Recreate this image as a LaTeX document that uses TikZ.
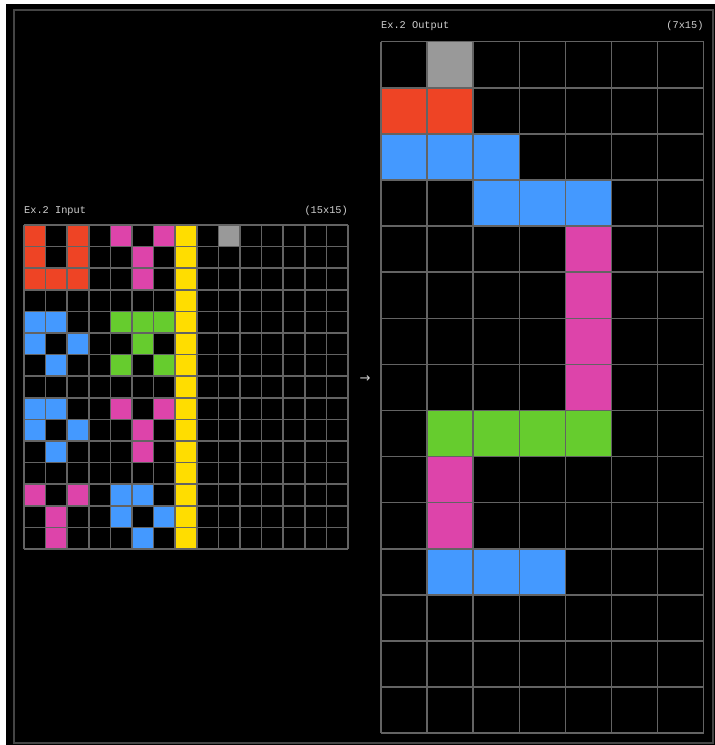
\documentclass[tikz,border=0pt]{standalone}
\usepackage{fontspec}
\setmonofont{Liberation Mono}
\newfontfamily\arrowfont{DejaVu Sans}
\definecolor{cR}{HTML}{EE4425}
\definecolor{cB}{HTML}{4499FF}
\definecolor{cM}{HTML}{DD44AA}
\definecolor{cG}{HTML}{66CC2E}
\definecolor{cY}{HTML}{FFDD00}
\definecolor{cGy}{HTML}{999999}
\definecolor{gridgray}{HTML}{636363}
\definecolor{framegray}{HTML}{454545}
\definecolor{labelgray}{HTML}{D0D0D0}
\begin{document}
\begin{tikzpicture}[x=1pt,y=-1pt,
  lbl/.style={font=\ttfamily\fontsize{10.3}{11}\selectfont, text=labelgray, inner sep=0pt},
  gridline/.style={draw=gridgray, line width=1.5pt},
  arrowlbl/.style={font=\arrowfont\fontsize{13}{13}\selectfont, text=labelgray, inner sep=0pt}]
\useasboundingbox (0,0) rectangle (715,745);
\fill[white] (0,0) rectangle (715,745);
\fill[black] (6,4) rectangle (715,745);
\draw[framegray, line width=1.2pt] (14,10) rectangle (713,743);

% ---------- input grid ----------
\def\ix{24}\def\iy{225}\def\ic{21.6}
\foreach \r in {0,...,14} \fill[cY] (\ix+7*\ic,\iy+\r*\ic) rectangle ++(\ic,\ic);
\foreach \r/\c/\col in {
  0/0/cR,0/2/cR,0/4/cM,0/6/cM,0/9/cGy,
  1/0/cR,1/2/cR,1/5/cM,
  2/0/cR,2/1/cR,2/2/cR,2/5/cM,
  4/0/cB,4/1/cB,4/4/cG,4/5/cG,4/6/cG,
  5/0/cB,5/2/cB,5/5/cG,
  6/1/cB,6/4/cG,6/6/cG,
  8/0/cB,8/1/cB,8/4/cM,8/6/cM,
  9/0/cB,9/2/cB,9/5/cM,
  10/1/cB,10/5/cM,
  12/0/cM,12/2/cM,12/4/cB,12/5/cB,
  13/1/cM,13/4/cB,13/6/cB,
  14/1/cM,14/5/cB}
  \fill[\col] (\ix+\c*\ic,\iy+\r*\ic) rectangle ++(\ic,\ic);
\foreach \i in {0,...,15} {
  \draw[gridline] (\ix+\i*\ic,\iy) -- (\ix+\i*\ic,\iy+15*\ic);
  \draw[gridline] (\ix,\iy+\i*\ic) -- (\ix+15*\ic,\iy+\i*\ic);
}
\node[lbl, anchor=west] (inlabel) at (\ix,211) {Ex.2 Input};
\node[lbl, anchor=east] (insize) at (\ix+15*\ic,211) {(15x15)};

% ---------- output grid ----------
\def\ox{381}\def\oy{41.7}\def\oc{46.1}
\foreach \r/\c/\col in {
  0/1/cGy,
  1/0/cR,1/1/cR,
  2/0/cB,2/1/cB,2/2/cB,
  3/2/cB,3/3/cB,3/4/cB,
  4/4/cM,5/4/cM,6/4/cM,7/4/cM,
  8/1/cG,8/2/cG,8/3/cG,8/4/cG,
  9/1/cM,10/1/cM,
  11/1/cB,11/2/cB,11/3/cB}
  \fill[\col] (\ox+\c*\oc,\oy+\r*\oc) rectangle ++(\oc,\oc);
\foreach \i in {0,...,7}
  \draw[gridline] (\ox+\i*\oc,\oy) -- (\ox+\i*\oc,\oy+15*\oc);
\foreach \i in {0,...,15}
  \draw[gridline] (\ox,\oy+\i*\oc) -- (\ox+7*\oc,\oy+\i*\oc);
\node[lbl, anchor=west] (outlabel) at (\ox,26) {Ex.2 Output};
\node[lbl, anchor=east] (outsize) at (\ox+7*\oc,26) {(7x15)};

% ---------- arrow ----------
\node[arrowlbl] (arrow) at (365,379) {\char"2192};
\end{tikzpicture}
\end{document}
